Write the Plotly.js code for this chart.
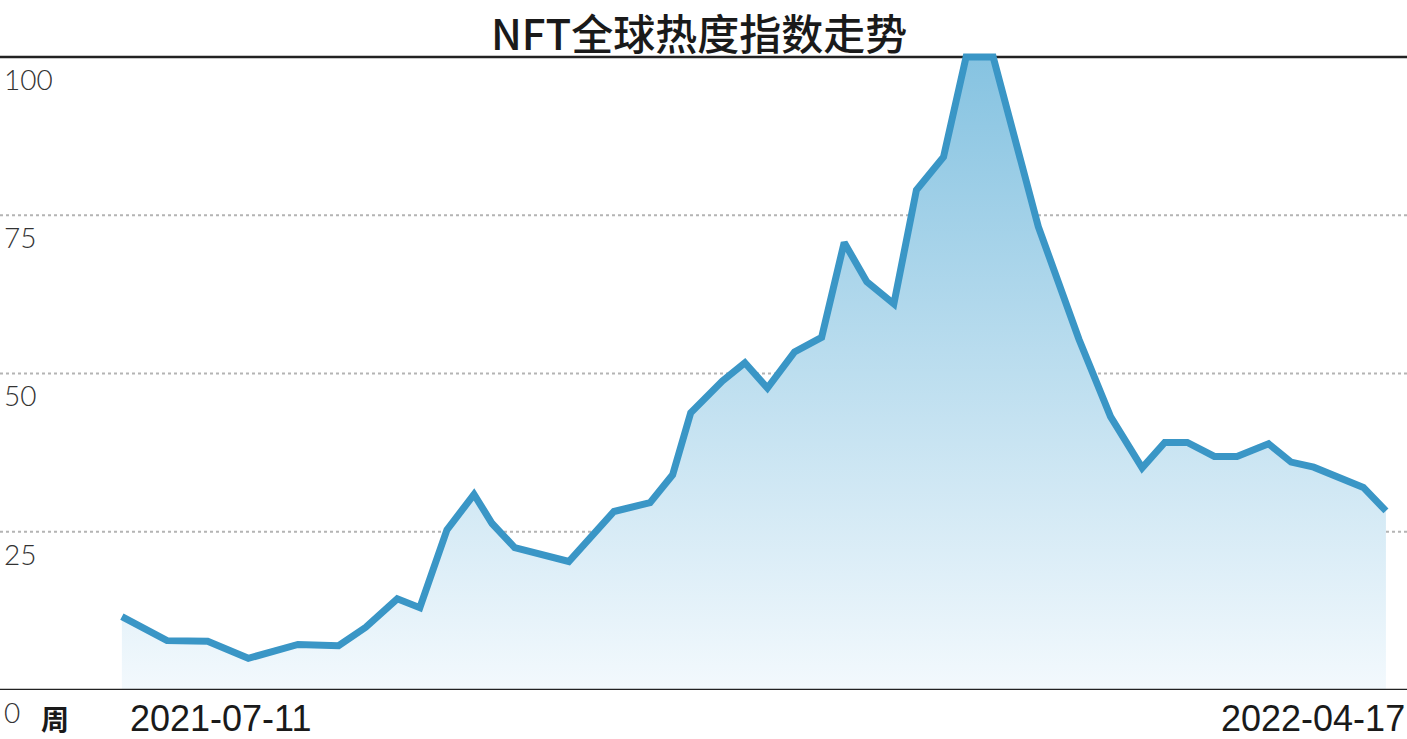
<!DOCTYPE html>
<html>
<head>
<meta charset="utf-8">
<script src="https://cdn.plot.ly/plotly-3.0.1.min.js"></script>
<style>
  html, body { margin: 0; padding: 0; background: #ffffff; }
  #chart { width: 1407px; height: 739px; }
</style>
</head>
<body>
<div id="chart"></div>
<script>
// ---- data ----
const chartTitle = "NFT全球热度指数走势";
const unitLabel = "周";

const weeks = [
  "2021-07-11", "2021-07-21", "2021-07-30", "2021-08-08", "2021-08-19",
  "2021-08-28", "2021-09-03", "2021-09-10", "2021-09-15", "2021-09-21",
  "2021-09-27", "2021-10-01", "2021-10-06", "2021-10-18", "2021-10-28",
  "2021-11-05", "2021-11-10", "2021-11-14", "2021-11-21", "2021-11-26",
  "2021-12-01", "2021-12-07", "2021-12-13", "2021-12-18", "2021-12-23",
  "2021-12-29", "2022-01-03", "2022-01-09", "2022-01-14", "2022-01-20",
  "2022-01-30", "2022-02-08", "2022-02-15", "2022-02-22", "2022-02-27",
  "2022-03-04", "2022-03-10", "2022-03-15", "2022-03-22", "2022-03-27",
  "2022-04-01", "2022-04-07", "2022-04-12", "2022-04-17"
];

const heatIndex = [
  11.6, 7.8, 7.7, 5.0, 7.2,
  7.0, 9.9, 14.4, 13.0, 25.3,
  30.9, 26.3, 22.5, 20.3, 28.2,
  29.6, 34.0, 43.8, 48.8, 51.7,
  47.7, 53.4, 55.7, 70.7, 64.5,
  61.0, 79.0, 84.2, 100, 100,
  73.2, 55.4, 43.2, 35.1, 39.1,
  39.1, 36.9, 36.9, 38.9, 36.0,
  35.2, 33.4, 32.0, 28.3
];

const yTicks = [0, 25, 50, 75, 100];
const xTickLabels = ["2021-07-11", "2022-04-17"];

// ---- chart ----
const trace = {
  type: "scatter",
  mode: "lines",
  x: weeks,
  y: heatIndex,
  line: { color: "#3a96c6", width: 7, shape: "linear" },
  fill: "tozeroy",
  fillgradient: {
    type: "vertical",
    start: 0,
    stop: 100,
    colorscale: [[0, "#f3f9fd"], [1, "#86c3e1"]]
  },
  hoverinfo: "skip"
};

const shapes = [];
yTicks.forEach(function (v) {
  const isEdge = (v === yTicks[0] || v === yTicks[yTicks.length - 1]);
  shapes.push({
    type: "line", xref: "paper", yref: "y",
    x0: 0, x1: 1, y0: v, y1: v,
    layer: (v === yTicks[0]) ? "above" : "below",
    line: isEdge ? { color: "#222222", width: 2.5 }
                 : { color: "#b4b4b4", width: 2, dash: "dot" }
  });
});

const annotations = [];
yTicks.forEach(function (v) {
  annotations.push({
    xref: "paper", yref: "y", x: 0, y: v,
    xanchor: "left", yanchor: "top", xshift: 2, yshift: -6,
    height: 28, valign: "middle",
    text: String(v), showarrow: false,
    font: { family: "Lato, 'Liberation Sans', sans-serif", size: 28, color: "#333333", weight: 300 }
  });
});
const xLabelFont = { family: "'Liberation Sans', Arial, sans-serif", size: 36, color: "#1a1a1a" };
annotations.push({
  xref: "x", yref: "y", x: weeks[0], y: 0,
  xanchor: "left", yanchor: "middle", xshift: 6, yshift: -28,
  height: 32, valign: "middle",
  text: xTickLabels[0], showarrow: false, font: xLabelFont
});
annotations.push({
  xref: "x", yref: "y", x: weeks[weeks.length - 1], y: 0,
  xanchor: "right", yanchor: "middle", xshift: 21, yshift: -28,
  height: 32, valign: "middle",
  text: xTickLabels[1], showarrow: false, font: xLabelFont
});
annotations.push({
  xref: "paper", yref: "y", x: 0, y: 0,
  xanchor: "left", yanchor: "middle", xshift: 39, yshift: -28,
  height: 30, valign: "middle",
  text: unitLabel, showarrow: false,
  font: { family: "'Noto Sans CJK SC', sans-serif", size: 28, color: "#1a1a1a", weight: 700 }
});
annotations.push({
  xref: "paper", yref: "paper", x: 0.497, y: 1,
  xanchor: "center", yanchor: "middle", yshift: 22,
  text: chartTitle, showarrow: false,
  font: { family: "'Noto Sans CJK SC', sans-serif", size: 42, color: "#1a1a1a", weight: 500 }
});

const layout = {
  width: 1407,
  height: 739,
  paper_bgcolor: "#ffffff",
  plot_bgcolor: "#ffffff",
  showlegend: false,
  margin: { l: 0, r: 0, t: 53, b: 49, pad: 0 },
  xaxis: {
    type: "date",
    range: ["2021-06-14", "2022-04-21 16:00"],
    showgrid: false, zeroline: false, showline: false,
    showticklabels: false, ticks: ""
  },
  yaxis: {
    range: [0, 100.63],
    showgrid: false, zeroline: false, showline: false,
    showticklabels: false, ticks: ""
  },
  shapes: shapes,
  annotations: annotations
};

Plotly.newPlot("chart", [trace], layout, { staticPlot: true, displayModeBar: false });
</script>
</body>
</html>
